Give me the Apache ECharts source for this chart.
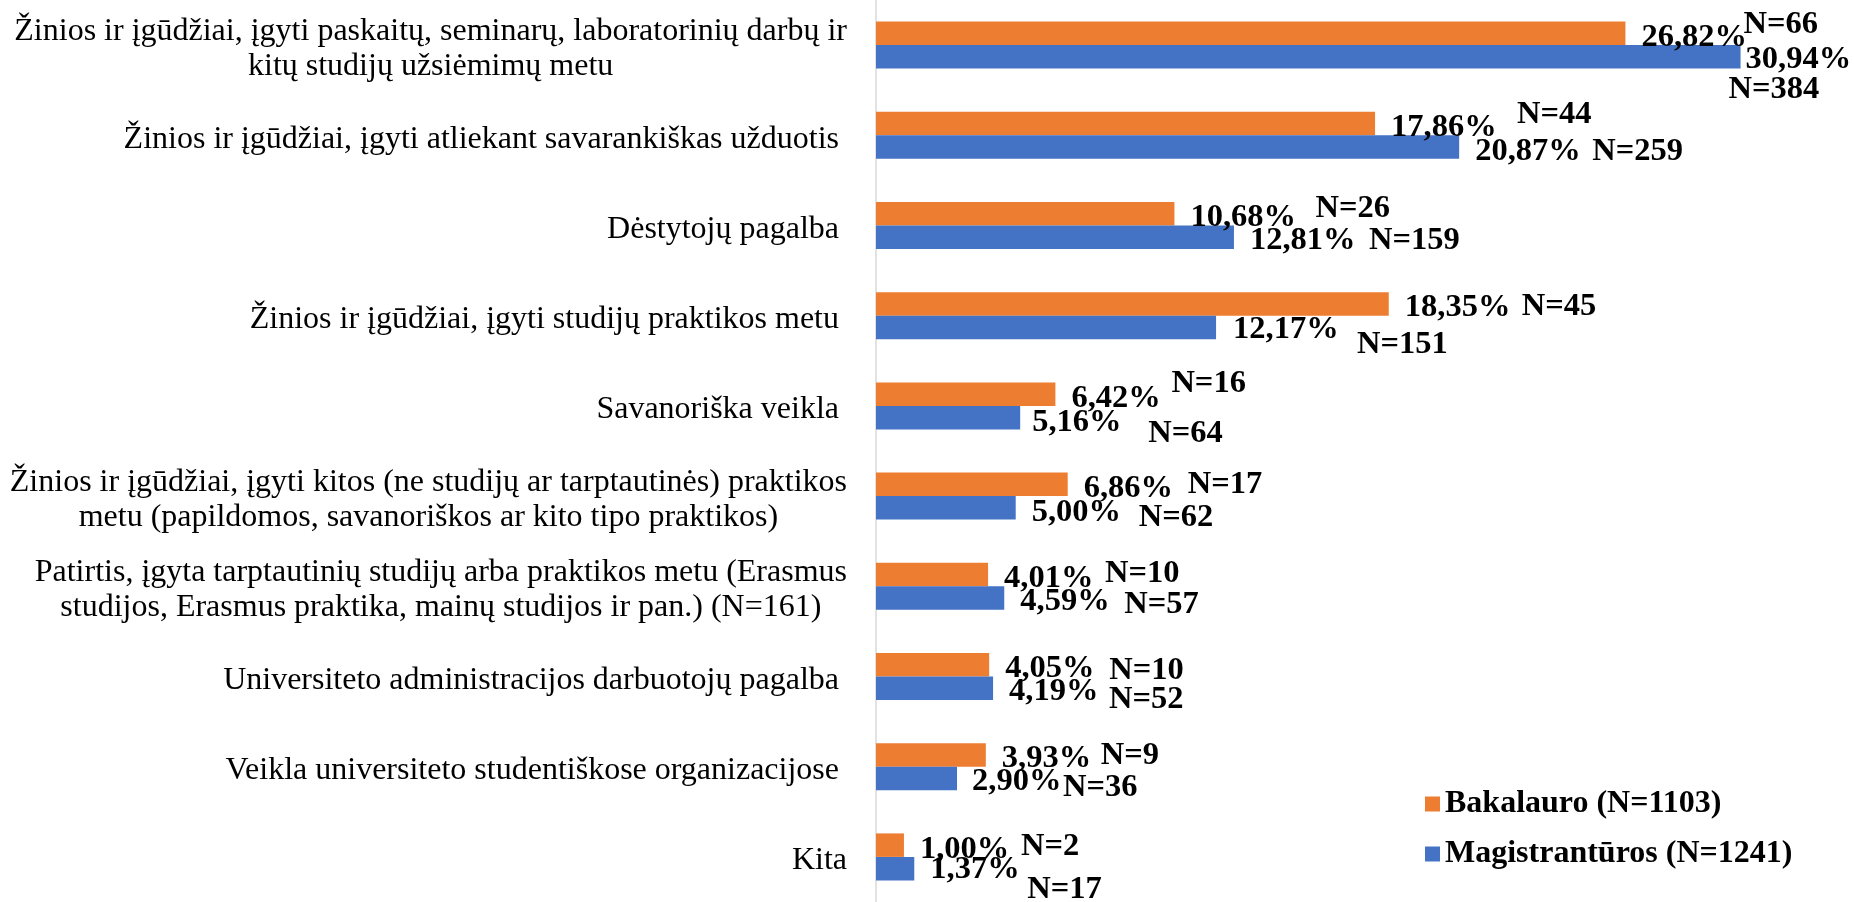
<!DOCTYPE html>
<html lang="lt">
<head>
    <meta charset="utf-8"/>
    <title>Bakalauro ir magistrantūros</title>
    <script src="https://cdn.jsdelivr.net/npm/echarts@6.0.0/dist/echarts.min.js"></script>
    <style>
        html, body { margin: 0; padding: 0; background: #fff; }
        #chart { width: 1854px; height: 902px; }
    </style>
</head>
<body>
<div id="chart"></div>
<script>
    // duomenys
    const categories = [
        'Žinios ir įgūdžiai, įgyti paskaitų, seminarų, laboratorinių darbų ir\nkitų studijų užsiėmimų metu',
        'Žinios ir įgūdžiai, įgyti atliekant savarankiškas užduotis ',
        'Dėstytojų pagalba ',
        'Žinios ir įgūdžiai, įgyti studijų praktikos metu ',
        'Savanoriška veikla ',
        'Žinios ir įgūdžiai, įgyti kitos (ne studijų ar tarptautinės) praktikos\nmetu (papildomos, savanoriškos ar kito tipo praktikos)',
        'Patirtis, įgyta tarptautinių studijų arba praktikos metu (Erasmus\nstudijos, Erasmus praktika, mainų studijos ir pan.) (N=161)',
        'Universiteto administracijos darbuotojų pagalba ',
        'Veikla universiteto studentiškose organizacijose ',
        'Kita'
    ];
    const seriesNames = ['Bakalauro (N=1103)', 'Magistrantūros (N=1241)'];
    const bak = [26.82, 17.86, 10.68, 18.35, 6.42, 6.86, 4.01, 4.05, 3.93, 1.00];
    const mag = [30.94, 20.87, 12.81, 12.17, 5.16, 5.00, 4.59, 4.19, 2.90, 1.37];
    const nBak = [66, 44, 26, 45, 16, 17, 10, 10, 9, 2];
    const nMag = [384, 259, 159, 151, 64, 62, 57, 52, 36, 17];

    // etikečių postūmiai (px nuo stulpelio galo / centro)
    const nBakNudge = [[118, -9], [142, -9], [141, -5], [133, 3], [116, -11], [120, 0], [117, -1], [120, 6], [115, 1], [117, 1]];
    const nMagNudge = [[-12, 33], [133, 5], [135, 3], [141, 17], [128, 16], [123, 10], [120, 7], [116, 11], [106, 9], [113, 21]];
    const magPctDx = [5, 16, 16, 17, 12, 16, 16, 16, 15, 16];
    const magPctDy = [3, 5, 3, 2, 5, 5, 4, 3, 3, 1];

    const BAR_W = 23.5;
    const SERIF = '"Liberation Serif", "Times New Roman", serif';
    const valueFont = 'bold 32.5px ' + SERIF;

    const chart = echarts.init(document.getElementById('chart'), null, {renderer: 'canvas'});

    function pct(v) {
        return v.toFixed(2).replace('.', ',') + '%';
    }

    const pctLabel = {
        show: true,
        position: 'right',
        distance: 16,
        offset: [0, 4],
        formatter: function (p) { return pct(p.value); },
        color: '#000',
        fontFamily: SERIF,
        fontWeight: 'bold',
        fontSize: 32.5
    };

    const nData = [];
    bak.forEach(function (v, i) { nData.push([v, i, nBak[i], 0]); });
    mag.forEach(function (v, i) { nData.push([v, i, nMag[i], 1]); });

    const option = {
        animation: false,
        backgroundColor: '#fff',
        grid: { left: 876, right: 0, top: 0, bottom: -5 },
        legend: {
            data: seriesNames,
            orient: 'vertical',
            left: 1420,
            top: 783,
            icon: 'rect',
            itemWidth: 15,
            itemHeight: 15,
            itemGap: 18,
            textStyle: { color: '#000', fontFamily: SERIF, fontWeight: 'bold', fontSize: 32, lineHeight: 32 }
        },
        xAxis: {
            type: 'value',
            min: 0,
            max: 35,
            show: false,
            splitLine: { show: false }
        },
        yAxis: {
            type: 'category',
            data: categories,
            inverse: true,
            axisLine: { show: true, lineStyle: { color: '#d9d9d9', width: 1.5 } },
            axisTick: { show: false },
            axisLabel: {
                margin: 29,
                padding: [8, 0, 0, 0],
                formatter: function (v) { return '{c|' + v + '}'; },
                rich: {
                    c: { align: 'center', color: '#000', fontFamily: SERIF, fontSize: 32, lineHeight: 35 }
                }
            }
        },
        series: [
            {
                name: seriesNames[0],
                type: 'bar',
                barWidth: BAR_W,
                barGap: '0%',
                itemStyle: { color: '#ED7D31' },
                label: pctLabel,
                data: bak
            },
            {
                name: seriesNames[1],
                type: 'bar',
                barWidth: BAR_W,
                barGap: '0%',
                itemStyle: { color: '#4472C4' },
                label: pctLabel,
                data: mag.map(function (v, i) {
                    return { value: v, label: { distance: magPctDx[i], offset: [0, magPctDy[i]] } };
                })
            },
            {
                name: 'N',
                type: 'custom',
                silent: true,
                encode: { x: 0, y: 1 },
                data: nData,
                renderItem: function (params, api) {
                    const idx = api.value(1);
                    const g = api.value(3);
                    const pt = api.coord([api.value(0), idx]);
                    const nudge = g === 0 ? nBakNudge[idx] : nMagNudge[idx];
                    const yc = pt[1] + (g === 0 ? -BAR_W / 2 : BAR_W / 2);
                    return {
                        type: 'text',
                        x: pt[0] + nudge[0],
                        y: yc + nudge[1],
                        style: {
                            text: 'N=' + api.value(2),
                            fill: '#000',
                            font: valueFont,
                            align: 'left',
                            verticalAlign: 'middle'
                        }
                    };
                }
            }
        ]
    };

    chart.setOption(option);
</script>
</body>
</html>
